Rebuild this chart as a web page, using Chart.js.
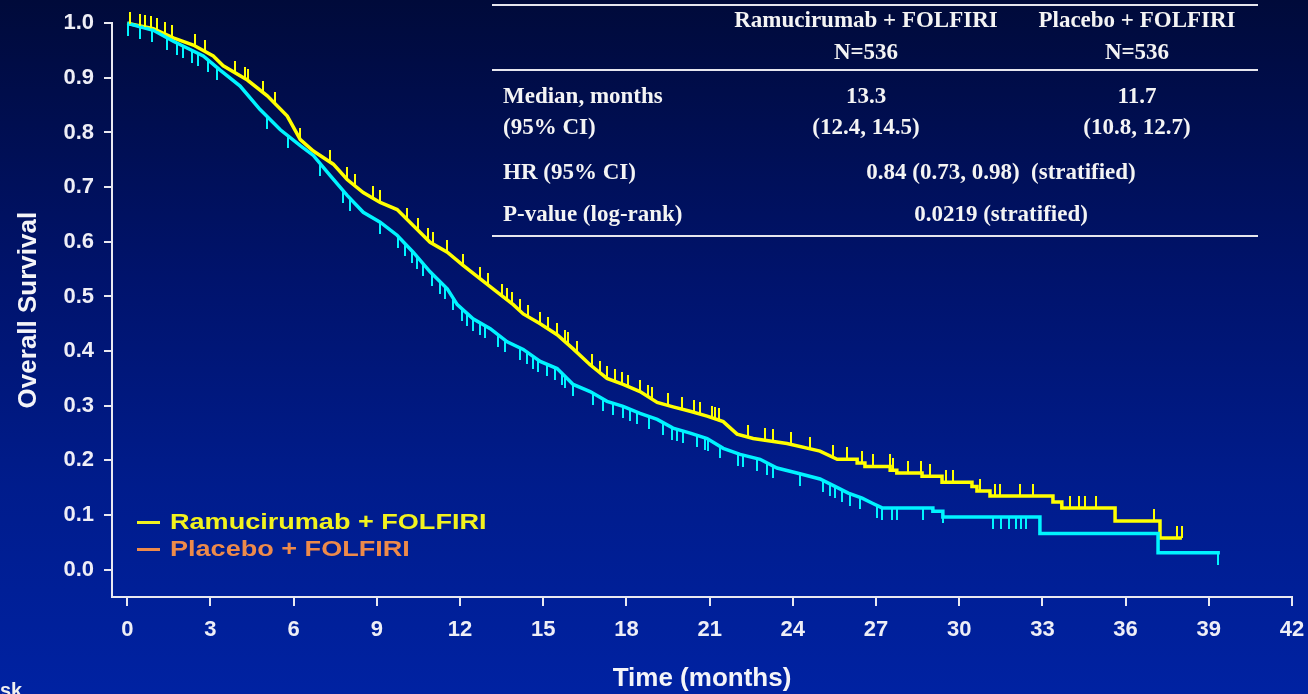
<!DOCTYPE html>
<html>
<head>
<meta charset="utf-8">
<script src="https://cdn.jsdelivr.net/npm/chart.js@4.4.1/dist/chart.umd.min.js"></script>
<style>
  html, body { margin: 0; padding: 0; width: 1308px; height: 694px; overflow: hidden; }
  body { background: linear-gradient(to bottom, #000a3a 0%, #00136c 40%, #001c8c 70%, #0022a2 100%); position: relative; }
  #km { position: absolute; left: 0; top: 0; }
  .t { position: absolute; color: #f4f4f4; font: bold 23px "Liberation Serif", "Times New Roman", serif; line-height: 26px; white-space: pre; }
  .ctr { transform: translateX(-50%); }
  .rule { position: absolute; left: 492px; width: 766px; height: 2px; background: #e6e6ee; }
  .leg { position: absolute; left: 170px; font: bold 22px "Liberation Sans", Arial, sans-serif; line-height: 26px; transform: scaleX(1.23); transform-origin: left center; white-space: pre; }
  .dash { position: absolute; left: 137px; width: 23px; height: 3px; }
  #sk { position: absolute; left: 0; top: 679px; color: #f0f0f0; font: bold 20px "Liberation Sans", Arial, sans-serif; }
</style>
</head>
<body>
<canvas id="km" width="1308" height="694"></canvas>

<div class="rule" style="top:4px"></div>
<div class="rule" style="top:69px"></div>
<div class="rule" style="top:235px"></div>

<div class="t ctr" style="left:866px; top:7px">Ramucirumab + FOLFIRI</div>
<div class="t ctr" style="left:1137px; top:7px">Placebo + FOLFIRI</div>
<div class="t ctr" style="left:866px; top:39px">N=536</div>
<div class="t ctr" style="left:1137px; top:39px">N=536</div>

<div class="t" style="left:503px; top:83px">Median, months</div>
<div class="t" style="left:503px; top:114px">(95% CI)</div>
<div class="t ctr" style="left:866px; top:83px">13.3</div>
<div class="t ctr" style="left:866px; top:114px">(12.4, 14.5)</div>
<div class="t ctr" style="left:1137px; top:83px">11.7</div>
<div class="t ctr" style="left:1137px; top:114px">(10.8, 12.7)</div>

<div class="t" style="left:503px; top:159px">HR (95% CI)</div>
<div class="t ctr" style="left:1001px; top:159px">0.84 (0.73, 0.98)  (stratified)</div>
<div class="t" style="left:503px; top:201px">P-value (log-rank)</div>
<div class="t ctr" style="left:1001px; top:201px">0.0219 (stratified)</div>

<div class="dash" style="top:521px; background:#f2f21e"></div>
<div class="leg" style="top:509px; color:#f2f21e">Ramucirumab + FOLFIRI</div>
<div class="dash" style="top:548px; background:#ee8a4a"></div>
<div class="leg" style="top:536px; color:#ee8a4a">Placebo + FOLFIRI</div>

<div id="sk">sk</div>

<script>
const YELLOW = '#ffff00';
const CYAN = '#00f4ff';
const AXIS_COLOR = '#e8e8f0';

const X_TICKS = [0, 3, 6, 9, 12, 15, 18, 21, 24, 27, 30, 33, 36, 39, 42];
const Y_TICKS = [0, 0.1, 0.2, 0.3, 0.4, 0.5, 0.6, 0.7, 0.8, 0.9, 1.0];

// Kaplan-Meier curves, [months, survival]
const RAM_CURVE = [
  [0, 1.0], [0.94, 0.99], [1.66, 0.973], [2.38, 0.96], [3.1, 0.94], [3.46, 0.922],
  [4.33, 0.896], [5.05, 0.867], [5.77, 0.83], [6.24, 0.787], [6.71, 0.766], [7.43, 0.742],
  [7.93, 0.714], [8.51, 0.69], [9.12, 0.672], [9.73, 0.659], [10.31, 0.63], [10.92, 0.599],
  [11.54, 0.581], [12.11, 0.557], [12.73, 0.532], [13.34, 0.508], [13.92, 0.485], [14.28, 0.468],
  [14.89, 0.45], [15.5, 0.43], [16.08, 0.404], [16.69, 0.375], [17.3, 0.35], [17.88, 0.339],
  [18.49, 0.326], [19.11, 0.306], [19.68, 0.298], [20.3, 0.29], [20.91, 0.281], [21.49, 0.271],
  [21.99, 0.248], [22.57, 0.24], [23.79, 0.231], [24.98, 0.217], [25.6, 0.202],
  [26.32, 0.202], [26.32, 0.195], [26.6, 0.195], [26.6, 0.189], [27.51, 0.189], [27.51, 0.182],
  [27.75, 0.182], [27.75, 0.177], [28.66, 0.177], [28.66, 0.171], [29.38, 0.171], [29.38, 0.16],
  [30.46, 0.16], [30.46, 0.152], [30.64, 0.152], [30.64, 0.144], [31.11, 0.144], [31.11, 0.135],
  [33.38, 0.135], [33.38, 0.124], [33.7, 0.124], [33.7, 0.113], [35.62, 0.113], [35.62, 0.089],
  [37.24, 0.089], [37.24, 0.058], [38.03, 0.058],
];

const PBO_CURVE = [
  [0, 1.0], [0.94, 0.987], [1.66, 0.967], [2.74, 0.94], [3.35, 0.914], [4.07, 0.885],
  [4.79, 0.842], [5.52, 0.805], [6.24, 0.776], [6.71, 0.758], [7.32, 0.721], [7.93, 0.685],
  [8.51, 0.654], [9.12, 0.636], [9.73, 0.612], [10.31, 0.581], [10.92, 0.545], [11.54, 0.514],
  [11.9, 0.485], [12.47, 0.459], [13.09, 0.441], [13.7, 0.417], [14.28, 0.403], [14.89, 0.381],
  [15.5, 0.368], [16.08, 0.339], [16.69, 0.326], [17.3, 0.308], [17.88, 0.299], [18.49, 0.286],
  [19.11, 0.275], [19.68, 0.259], [20.3, 0.25], [20.91, 0.24], [21.49, 0.222], [22.1, 0.211],
  [22.82, 0.202], [23.43, 0.186], [24.15, 0.177], [24.98, 0.166], [25.5, 0.153], [26.0, 0.14],
  [26.5, 0.131], [26.85, 0.122], [27.22, 0.113], [29.05, 0.113], [29.05, 0.107], [29.41, 0.107],
  [29.41, 0.0965], [32.91, 0.0965], [32.91, 0.066], [37.17, 0.066], [37.17, 0.031], [39.4, 0.031],
];

// censoring times (months)
const RAM_CENSOR = [
  0.11, 0.47, 0.65, 0.87, 1.08, 1.37, 1.62, 2.45, 2.81, 3.89, 4.25, 4.36, 4.9, 5.34, 6.24,
  7.32, 7.93, 8.22, 8.87, 9.12, 10.1, 10.49, 10.85, 11.03, 11.54, 12.12, 12.73, 13.01, 13.52,
  13.7, 13.88, 14.17, 14.45, 14.89, 15.18, 15.5, 15.79, 15.9, 16.22, 16.76, 17.05, 17.3, 17.59,
  17.84, 18.06, 18.49, 18.78, 18.93, 19.5, 20.01, 20.44, 20.66, 21.09, 21.2, 21.34, 22.39, 23.0,
  23.29, 23.94, 24.62, 25.45, 25.96, 26.5, 26.89, 27.51, 27.61, 28.15, 28.62, 28.95, 29.52,
  29.78, 30.75, 31.29, 31.47, 32.19, 32.66, 34.0, 34.32, 34.54, 34.93, 37.02, 37.85, 38.03,
];

const PBO_CENSOR = [
  0.04, 0.47, 0.9, 1.44, 1.8, 2.02, 2.34, 2.56, 2.92, 3.24, 5.05, 5.8, 6.96, 7.79, 8.04, 9.12,
  9.77, 10.02, 10.27, 10.45, 10.67, 11.0, 11.28, 11.46, 11.75, 12.08, 12.26, 12.47, 12.73, 12.91,
  13.37, 13.63, 14.17, 14.42, 14.64, 14.82, 15.14, 15.43, 15.68, 15.79, 16.08, 16.8, 17.16, 17.52,
  17.88, 18.13, 18.39, 18.82, 19.32, 19.65, 19.83, 20.04, 20.55, 20.84, 20.94, 21.38, 22.03,
  22.21, 22.71, 23.07, 23.29, 24.26, 25.09, 25.34, 25.52, 25.78, 26.06, 26.42, 27.04, 27.22,
  27.58, 27.76, 28.69, 29.41, 31.22, 31.51, 31.8, 32.05, 32.23, 32.41, 39.33,
];

// survival value on the drawn curve at time t, used to seat the censor marks on it
function survivalAt(curve, t) {
  for (let i = 1; i < curve.length; i++) {
    const [t0, s0] = curve[i - 1];
    const [t1, s1] = curve[i];
    if (t <= t1) {
      if (t1 === t0) return s0;
      return s0 + (s1 - s0) * (t - t0) / (t1 - t0);
    }
  }
  return curve[curve.length - 1][1];
}

// vertical censor tick, drawn above (up) or below the line
function makeTick(color, up) {
  const c = document.createElement('canvas');
  c.width = 2;
  c.height = 24;
  const g = c.getContext('2d');
  g.fillStyle = color;
  g.fillRect(0, up ? 0 : 12, 2, 12);
  return c;
}

const toPoints = (curve) => curve.map(([x, y]) => ({ x, y }));
const censorPoints = (curve, times) => times.map((t) => ({ x: t, y: survivalAt(curve, t) }));

const tickFont = { family: '"Liberation Sans", Arial, sans-serif', weight: 'bold', size: 22 };
const titleFont = { family: '"Liberation Sans", Arial, sans-serif', weight: 'bold', size: 26 };

new Chart(document.getElementById('km'), {
  type: 'line',
  data: {
    datasets: [
      {
        label: 'Ramucirumab + FOLFIRI',
        data: toPoints(RAM_CURVE),
        borderColor: YELLOW,
        borderWidth: 3.5,
        pointRadius: 0,
        tension: 0,
        clip: false,
        order: 3,
      },
      {
        label: 'Placebo + FOLFIRI',
        data: toPoints(PBO_CURVE),
        borderColor: CYAN,
        borderWidth: 3.5,
        pointRadius: 0,
        tension: 0,
        clip: false,
        order: 2,
      },
      {
        label: 'Ramucirumab censored',
        data: censorPoints(RAM_CURVE, RAM_CENSOR),
        showLine: false,
        pointStyle: makeTick(YELLOW, true),
        pointRadius: 6,
        clip: false,
        order: 1,
      },
      {
        label: 'Placebo censored',
        data: censorPoints(PBO_CURVE, PBO_CENSOR),
        showLine: false,
        pointStyle: makeTick(CYAN, false),
        pointRadius: 6,
        clip: false,
        order: 0,
      },
    ],
  },
  options: {
    responsive: false,
    animation: false,
    events: [],
    layout: { padding: { top: 20, right: 16, left: 0, bottom: 0 } },
    scales: {
      x: {
        type: 'linear',
        min: -0.55,
        max: 42,
        afterBuildTicks: (scale) => { scale.ticks = X_TICKS.map((value) => ({ value })); },
        afterFit: (scale) => {
          scale.height = 97;
          scale.paddingLeft = 0;
          scale.paddingRight = 0;
        },
        grid: { drawOnChartArea: false, drawTicks: true, tickLength: 9, color: AXIS_COLOR, lineWidth: 2 },
        border: { display: true, color: AXIS_COLOR, width: 2 },
        ticks: { color: '#eeeef6', font: tickFont, padding: 11, maxRotation: 0, callback: (v) => String(v) },
        title: { display: true, text: 'Time (months)', color: '#f4f4f8', font: titleFont, padding: { top: 0, bottom: 0 } },
      },
      y: {
        type: 'linear',
        min: -0.05,
        max: 1.0,
        afterBuildTicks: (scale) => { scale.ticks = Y_TICKS.map((value) => ({ value })); },
        afterFit: (scale) => { scale.width = 112; },
        grid: { drawOnChartArea: false, drawTicks: true, tickLength: 8, color: AXIS_COLOR, lineWidth: 2 },
        border: { display: true, color: AXIS_COLOR, width: 2 },
        ticks: { color: '#eeeef6', font: tickFont, padding: 10, callback: (v) => v.toFixed(1) },
        title: { display: true, text: 'Overall Survival', color: '#f4f4f8', font: titleFont, padding: { top: 13, bottom: 0 } },
      },
    },
    plugins: {
      legend: { display: false },
      tooltip: { enabled: false },
    },
  },
});
</script>
</body>
</html>
